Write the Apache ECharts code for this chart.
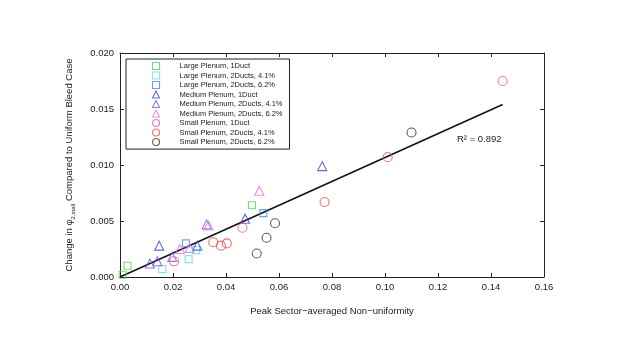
<!DOCTYPE html>
<html><head><meta charset="utf-8">
<script src="https://cdn.jsdelivr.net/npm/echarts@6/dist/echarts.min.js"></script>
<style>html,body{margin:0;padding:0;background:#fff}#c{width:622px;height:350px}</style>
</head><body><div id="c"></div>
<script>
var seriesNames = ["Large Plenum, 1Duct","Large Plenum, 2Ducts, 4.1%","Large Plenum, 2Ducts, 6.2%","Medium Plenum, 1Duct","Medium Plenum, 2Ducts, 4.1%","Medium Plenum, 2Ducts, 6.2%","Small Plenum, 1Duct","Small Plenum, 2Ducts, 4.1%","Small Plenum, 2Ducts, 6.2%"];
var largeOneDuct = [[0.001,0.0002],[0.0028,0.0010],[0.0498,0.0064]];
var largeTwo41 = [[0.016,0.0007],[0.0259,0.0016],[0.0287,0.0024]];
var largeTwo62 = [[0.0249,0.0030],[0.0541,0.0057]];
var mediumOneDuct = [[0.0148,0.0028],[0.0292,0.0028],[0.0472,0.0052],[0.0763,0.0099]];
var mediumTwo41 = [[0.0113,0.0012],[0.0141,0.0014],[0.0197,0.0018],[0.0327,0.0047]];
var mediumTwo62 = [[0.0226,0.0025],[0.0262,0.0026],[0.0334,0.0046],[0.0526,0.0077]];
var smallOneDuct = [[0.0204,0.0014],[0.0462,0.0044],[0.101,0.0107],[0.1444,0.0175]];
var smallTwo41 = [[0.0352,0.0031],[0.0381,0.0028],[0.0403,0.0030],[0.0772,0.0067]];
var smallTwo62 = [[0.0516,0.0021],[0.0553,0.0035],[0.0585,0.0048],[0.110,0.0129]];
var fitX = [0, 0.1444];
var fitY = [0, 0.0154];
var xTicks = [0,0.02,0.04,0.06,0.08,0.10,0.12,0.14,0.16];
var yTicks = [0,0.005,0.010,0.015,0.020];

var allData = [largeOneDuct,largeTwo41,largeTwo62,mediumOneDuct,mediumTwo41,mediumTwo62,smallOneDuct,smallTwo41,smallTwo62];
var colors = ["#5ccc5c","#6adcdc","#4a8ae8","#3a48d0","#7a55dc","#de78de","#e2588c","#ea4848","#333333"];
var symbols = ["rect","rect","rect","triangle","triangle","triangle","circle","circle","circle"];
var sizes = [7,7,7,9,9,9,9,9,9];

var FONT = "Liberation Sans, Arial, sans-serif";
function markerStyle(i){ return {color:'rgba(255,255,255,0)', borderColor:colors[i], borderWidth:1.1}; }
var series = allData.map(function(d,i){
  return {
    name: seriesNames[i], type:'scatter', data:d, symbol: symbols[i], symbolSize: sizes[i],
    itemStyle: markerStyle(i), xAxisIndex:0, yAxisIndex:0, z:3
  };
});
series.push({
  name:'fit', type:'line', data: fitX.map(function(x,i){return [x,fitY[i]];}),
  symbol:'none', lineStyle:{color:'#111', width:1.5}, silent:true, z:2,
  xAxisIndex:0, yAxisIndex:0
});

var chart = echarts.init(document.getElementById('c'));
function axisCommon(){ return {
  axisLine:{show:true, onZero:false, lineStyle:{color:'#222', width:1}},
  axisTick:{show:true, inside:true, length:4, lineStyle:{color:'#222'}},
  splitLine:{show:false}
};}
chart.setOption({
  animation:false,
  backgroundColor:'#fff',
  grid:{left:120, right:78, top:53, bottom:73},
  legend:{
    orient:'vertical', left:126, top:59,
    data: seriesNames.map(function(n,i){return {name:n, icon:symbols[i], itemStyle:markerStyle(i)};}),
    itemWidth:7, itemHeight:7, itemGap:1.4,
    padding:[3,7,3,26],
    borderColor:'#222', borderWidth:1,
    textStyle:{fontFamily:FONT, fontSize:7.5, color:'#222', lineHeight:8, padding:[0,0,0,15]},
    selectedMode:false
  },
  xAxis:[
    Object.assign({type:'value', min:0, max:0.16, interval:0.02, position:'bottom',
      name:'Peak Sector\u2212averaged Non\u2212uniformity', nameLocation:'middle', nameGap:29,
      nameTextStyle:{fontFamily:FONT, fontSize:9.5, color:'#222'},
      axisLabel:{fontFamily:FONT, fontSize:9.5, color:'#222', margin:5, formatter:function(v){return v.toFixed(2);}}}, axisCommon()),
    Object.assign({type:'value', min:0, max:0.16, interval:0.02, position:'top', axisLabel:{show:false}}, axisCommon())
  ],
  yAxis:[
    Object.assign({type:'value', min:0, max:0.02, interval:0.005, position:'left',
      name:'{n|Change in \u03c6}{s|2,stall}{n| Compared to Uniform Bleed Case}', nameLocation:'middle', nameGap:44,
      nameTextStyle:{fontFamily:FONT, fontSize:9.5, color:'#222', rich:{
        n:{fontFamily:FONT, fontSize:9.5, color:'#222', lineHeight:14, verticalAlign:'middle'},
        s:{fontFamily:FONT, fontSize:6, color:'#222', lineHeight:14, verticalAlign:'bottom'}}},
      axisLabel:{fontFamily:FONT, fontSize:9.5, color:'#222', margin:6, formatter:function(v){return v.toFixed(3);}}}, axisCommon()),
    Object.assign({type:'value', min:0, max:0.02, interval:0.005, position:'right', axisLabel:{show:false}}, axisCommon())
  ],
  graphic:[{type:'text', left:457, top:134, style:{text:'R\u00b2 = 0.892', font:'9.5px '+FONT, fill:'#222'}}],
  series: series
});
</script></body></html>
